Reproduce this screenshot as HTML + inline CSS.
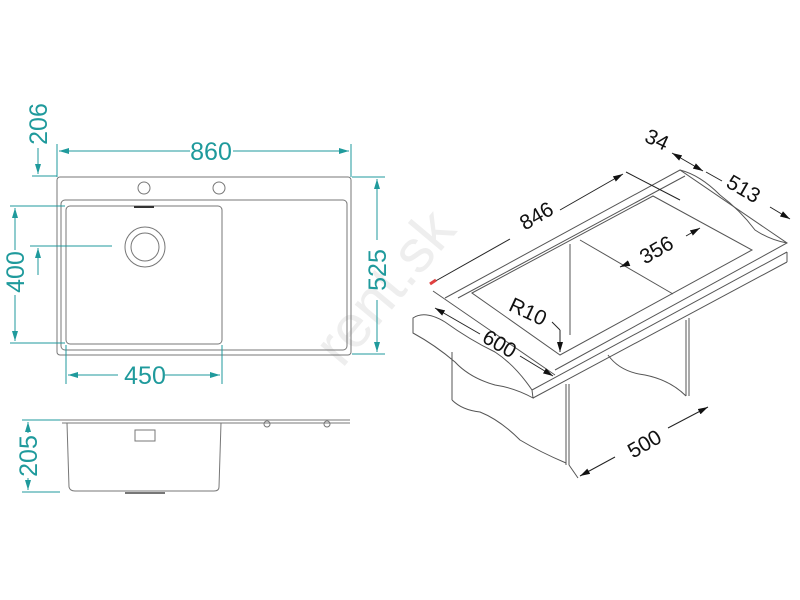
<!DOCTYPE html>
<html><head><style>html,body{margin:0;padding:0;background:#fff}svg{display:block}</style></head>
<body>
<svg width="800" height="600" viewBox="0 0 800 600" xmlns="http://www.w3.org/2000/svg" font-family="Liberation Sans, sans-serif">
<defs>
<marker id="at" viewBox="0 0 10 6" refX="10" refY="3" markerWidth="10" markerHeight="6" orient="auto-start-reverse" markerUnits="userSpaceOnUse"><path d="M0,0L10,3L0,6z" fill="#1f9a9c"/></marker>
<marker id="ab" viewBox="0 0 10 6" refX="10" refY="3" markerWidth="10" markerHeight="6" orient="auto-start-reverse" markerUnits="userSpaceOnUse"><path d="M0,0L10,3L0,6z" fill="#111"/></marker>
</defs>
<text x="400" y="300" transform="rotate(-50 400 300)" font-size="60" fill="#eee" text-anchor="middle">rent.sk</text>
<!-- top view -->
<g fill="none" stroke="#777" stroke-width="1">
<rect x="57" y="177" width="294" height="178" rx="3"/>
<rect x="61" y="200" width="286" height="150" rx="4"/>
<rect x="66" y="206" width="156" height="138" rx="4"/>
<circle cx="145" cy="247" r="20"/><circle cx="145" cy="247" r="14"/>
<circle cx="144" cy="188" r="6"/><circle cx="219" cy="188" r="6"/>
<line x1="134" y1="207" x2="154" y2="207" stroke="#333" stroke-width="2"/>
</g>
<g stroke="#1f9a9c" stroke-width="1" fill="none">
<line x1="57" y1="177" x2="57" y2="144"/><line x1="351" y1="177" x2="351" y2="144"/>
<line x1="59" y1="151" x2="190" y2="151" marker-start="url(#at)"/><line x1="233" y1="151" x2="349" y2="151" marker-end="url(#at)"/>
<line x1="352" y1="177" x2="385" y2="177"/><line x1="352" y1="354" x2="385" y2="354"/>
<line x1="377" y1="179" x2="377" y2="240" marker-start="url(#at)"/><line x1="377" y1="300" x2="377" y2="352" marker-end="url(#at)"/>
<line x1="10" y1="206" x2="65" y2="206"/><line x1="10" y1="343" x2="65" y2="343"/>
<line x1="15" y1="208" x2="15" y2="250" marker-start="url(#at)"/><line x1="15" y1="295" x2="15" y2="341" marker-end="url(#at)"/>
<line x1="32" y1="176" x2="57" y2="176"/><line x1="30" y1="246" x2="112" y2="246"/>
<line x1="38" y1="148" x2="38" y2="174" marker-end="url(#at)"/><line x1="38" y1="275" x2="38" y2="248" marker-end="url(#at)"/>
<line x1="66" y1="345" x2="66" y2="384"/><line x1="222" y1="345" x2="222" y2="384"/>
<line x1="68" y1="375" x2="118" y2="375" marker-start="url(#at)"/><line x1="165" y1="375" x2="220" y2="375" marker-end="url(#at)"/>
<line x1="22" y1="420" x2="60" y2="420"/><line x1="22" y1="492" x2="60" y2="492"/>
<line x1="28" y1="422" x2="28" y2="433" marker-start="url(#at)"/><line x1="28" y1="478" x2="28" y2="490" marker-end="url(#at)"/>
</g>
<g fill="#1f9a9c" font-size="25" text-anchor="middle">
<text x="211" y="160">860</text>
<text x="145" y="384">450</text>
<text transform="translate(386,270) rotate(-90)">525</text>
<text transform="translate(24,272) rotate(-90)">400</text>
<text transform="translate(47,124) rotate(-90)">206</text>
<text transform="translate(37,456) rotate(-90)">205</text>
</g>
<!-- side view -->
<g fill="none" stroke="#777" stroke-width="1">
<line x1="60" y1="420" x2="350" y2="420"/><line x1="62" y1="423" x2="350" y2="423"/>
<path d="M67,423 L69,487 Q70,491 75,491 L214,491 Q219,491 219,487 L221,423"/>
<rect x="135" y="430" width="20" height="11"/>
<circle cx="267" cy="424" r="3"/><circle cx="327" cy="424" r="3"/>
<line x1="125" y1="493" x2="165" y2="493" stroke-width="2"/>
</g>
<!-- iso view -->
<g fill="none" stroke="#555" stroke-width="1">
<path d="M413,318 Q425,310 445,322 Q470,340 495,352 Q515,365 532,390 L533,398 Q515,388 495,385 Q470,378 455,362 Q435,345 413,333 Z"/>
<line x1="532" y1="390" x2="787" y2="252"/><line x1="533" y1="398" x2="787" y2="262"/><line x1="787" y1="252" x2="787" y2="262"/>
<path d="M433,291 L555,375"/>
<path d="M445,298 L680,170 L787,243 L555,370"/>
<path d="M458,298 L685,176"/>
<path d="M472,293 L653,196 L752,250 L560,355 Z"/>
<line x1="580" y1="240" x2="673" y2="294"/>
<line x1="570" y1="244" x2="570" y2="335"/>
<path d="M680,170 Q700,175 720,195 Q740,210 755,230 Q770,240 787,243"/>
<line x1="452" y1="352" x2="452" y2="400"/>
<path d="M452,400 Q462,410 480,412 Q500,420 520,440 Q540,452 566,463"/>
<line x1="566" y1="384" x2="566" y2="465"/><line x1="569" y1="384" x2="569" y2="465"/>
<line x1="686" y1="320" x2="686" y2="396"/><line x1="689" y1="318" x2="689" y2="396"/>
<path d="M608,355 Q620,372 645,375 Q670,380 686,396"/>
<line x1="569" y1="465" x2="578" y2="478"/>
</g>
<g stroke="#222" stroke-width="1" fill="none">
<line x1="432" y1="283" x2="510" y2="239"/><line x1="560" y1="210" x2="623" y2="174" marker-end="url(#ab)"/>
<line x1="626" y1="172" x2="680" y2="200"/>
<line x1="435" y1="308" x2="480" y2="334" marker-start="url(#ab)"/><line x1="520" y1="356" x2="553" y2="376" marker-end="url(#ab)"/>
<line x1="672" y1="153" x2="703" y2="171" marker-start="url(#ab)" marker-end="url(#ab)"/>
<line x1="706" y1="172" x2="722" y2="181"/><line x1="770" y1="207" x2="790" y2="219" marker-end="url(#ab)"/>
<line x1="627" y1="264" x2="620" y2="267" marker-end="url(#ab)"/><line x1="686" y1="236" x2="700" y2="228" marker-end="url(#ab)"/>
<line x1="552" y1="322" x2="560" y2="330"/><line x1="560" y1="330" x2="560" y2="352" marker-end="url(#ab)"/>
<line x1="580" y1="476" x2="615" y2="457" marker-start="url(#ab)"/><line x1="668" y1="428" x2="708" y2="407" marker-end="url(#ab)"/>
</g>
<line x1="430" y1="284" x2="436" y2="280" stroke="#e04040" stroke-width="3"/>
<g fill="#111" font-size="21" text-anchor="middle">
<text transform="translate(540,222) rotate(-30)">846</text>
<text transform="translate(740,195) rotate(30)">513</text>
<text transform="translate(654,146) rotate(25)">34</text>
<text transform="translate(660,256) rotate(-30)">356</text>
<text transform="translate(525,318) rotate(25)">R10</text>
<text transform="translate(496,350) rotate(30)">600</text>
<text transform="translate(648,450) rotate(-30)">500</text>
</g>
</svg>
</body></html>
